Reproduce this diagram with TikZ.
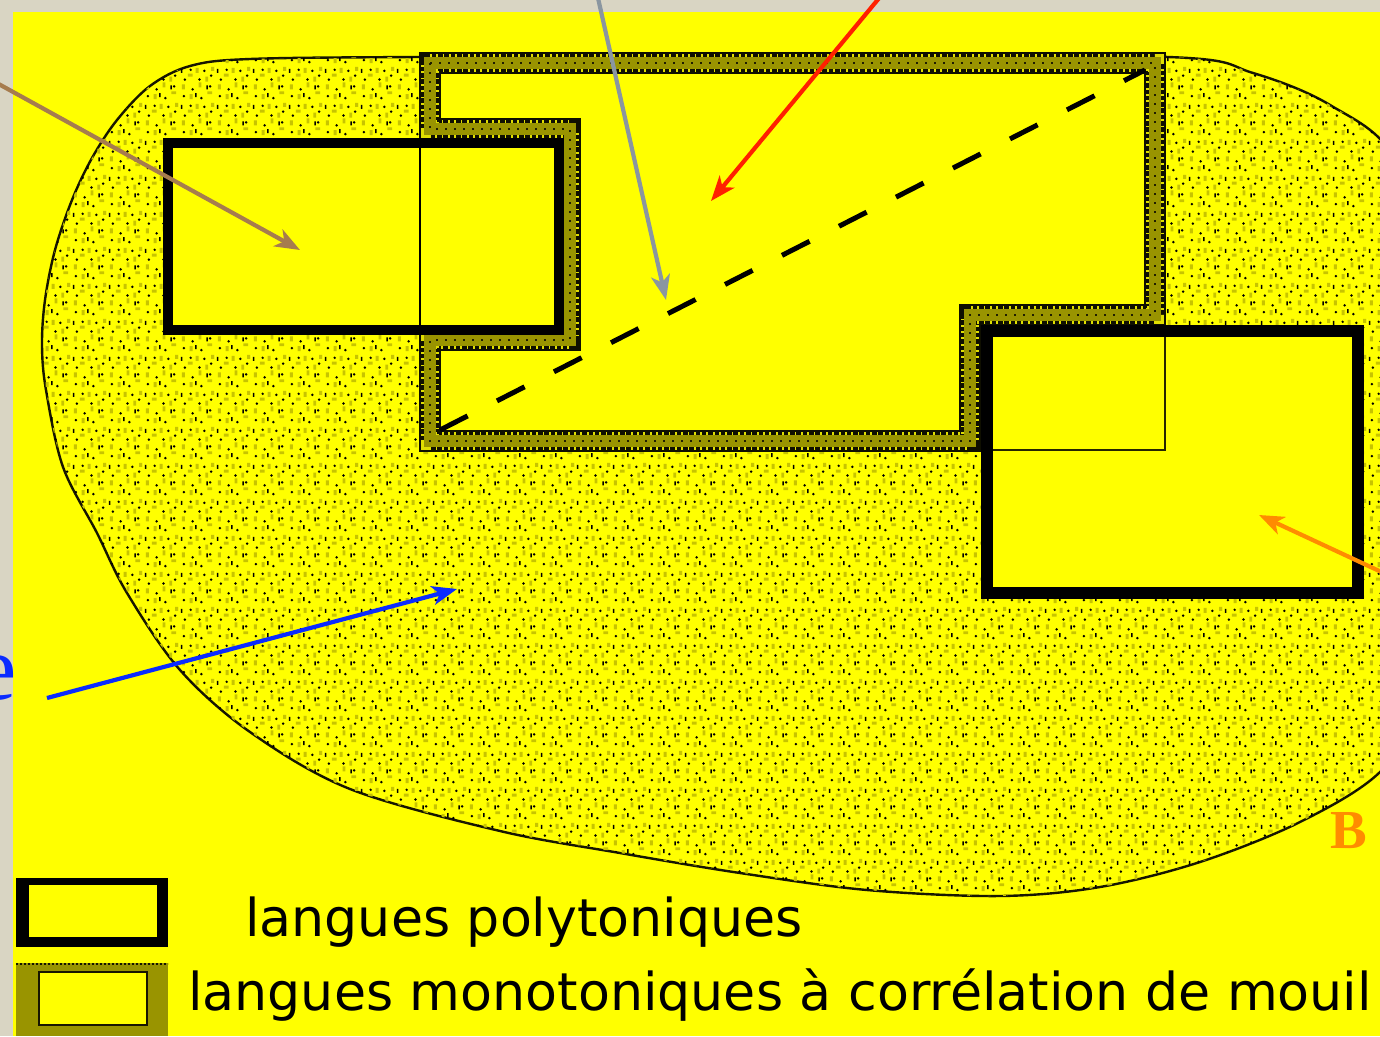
\documentclass[tikz,border=0pt]{standalone}
\usepackage{fontspec}
\setmainfont{Liberation Serif}
\newfontfamily\legendfont{DejaVu Sans}
\usetikzlibrary{arrows.meta,patterns}
\definecolor{beige}{RGB}{217,213,195}
\definecolor{ylw}{RGB}{255,255,0}
\definecolor{olv}{RGB}{153,148,0}
\definecolor{brn}{RGB}{166,124,78}
\definecolor{gry}{RGB}{138,150,160}
\definecolor{rd}{RGB}{255,32,0}
\definecolor{blu}{RGB}{10,43,255}
\definecolor{orng}{RGB}{255,140,0}
\pgfdeclarepatterninherentlycolored{stipple}{\pgfpointorigin}{\pgfqpoint{36pt}{36pt}}{\pgfqpoint{36pt}{36pt}}{%
  \pgfsetfillcolor{olv!55!ylw}%
  \pgfpathrectangle{\pgfqpoint{10pt}{2pt}}{\pgfqpoint{3pt}{5pt}}%
  \pgfpathrectangle{\pgfqpoint{28pt}{7pt}}{\pgfqpoint{5pt}{3pt}}%
  \pgfpathrectangle{\pgfqpoint{2pt}{12pt}}{\pgfqpoint{3pt}{5pt}}%
  \pgfpathrectangle{\pgfqpoint{19pt}{14pt}}{\pgfqpoint{3pt}{5pt}}%
  \pgfpathrectangle{\pgfqpoint{8pt}{25pt}}{\pgfqpoint{5pt}{3pt}}%
  \pgfpathrectangle{\pgfqpoint{26pt}{20pt}}{\pgfqpoint{3pt}{5pt}}%
  \pgfpathrectangle{\pgfqpoint{16pt}{29pt}}{\pgfqpoint{3pt}{5pt}}%
  \pgfpathrectangle{\pgfqpoint{32pt}{31pt}}{\pgfqpoint{3pt}{4pt}}%
  \pgfusepath{fill}%
  \pgfsetfillcolor{black}%
  \pgfpathcircle{\pgfqpoint{4pt}{5pt}}{1.4pt}%
  \pgfpathcircle{\pgfqpoint{22pt}{3pt}}{1.4pt}%
  \pgfpathcircle{\pgfqpoint{13pt}{12pt}}{1.4pt}%
  \pgfpathcircle{\pgfqpoint{31pt}{15pt}}{1.4pt}%
  \pgfpathcircle{\pgfqpoint{5pt}{22pt}}{1.4pt}%
  \pgfpathcircle{\pgfqpoint{20pt}{22pt}}{1.4pt}%
  \pgfpathcircle{\pgfqpoint{32pt}{26pt}}{1.4pt}%
  \pgfpathcircle{\pgfqpoint{11pt}{32pt}}{1.4pt}%
  \pgfpathcircle{\pgfqpoint{25pt}{31pt}}{1.4pt}%
  \pgfusepath{fill}%
  \pgfpathrectangle{\pgfqpoint{15.5pt}{4pt}}{\pgfqpoint{1.5pt}{4pt}}%
  \pgfpathrectangle{\pgfqpoint{27pt}{12pt}}{\pgfqpoint{1.5pt}{4pt}}%
  \pgfpathrectangle{\pgfqpoint{1pt}{29pt}}{\pgfqpoint{1.5pt}{4pt}}%
  \pgfusepath{fill}%
}
\tikzset{
  arrowline/.style={line width=4.2pt, line cap=butt, -{Stealth[length=25pt,width=19pt,inset=7pt]}},
  thickbox/.style={draw=black, fill=ylw},
  thinline/.style={line width=2pt, draw=black!75!olv},
  legendtext/.style={anchor=base west, inner sep=0pt, font=\legendfont\fontsize{52.2}{60}\selectfont},
  bandpath/.style={line join=miter},
}
\begin{document}
\begin{tikzpicture}[x=1pt,y=-1pt]
\useasboundingbox (0,0) rectangle (1380,1036);
\clip (0,0) rectangle (1380,1036);
% background
\fill[beige] (0,0) rectangle (1380,1036);
\fill[ylw] (13,12) rectangle (1380,1036);
% stippled blob
\path[fill=ylw, postaction={pattern=stipple}, draw=black!85!olv, line width=2.4pt]
  plot[smooth cycle, tension=0.55] coordinates {
  (250,59) (420,57) (800,56) (1168,57) (1253,73) (1330,105) (1395,160)
  (1425,300) (1425,700) (1380,772) (1300,822) (1200,862) (1100,887)
  (1000,896) (867,890) (740,873) (620,853) (500,831) (350,789)
  (250,732) (180,670) (127,593) (97,533) (63,467) (46,390) (42,345)
  (45,300) (55,250) (72,200) (92,158) (117,120) (150,86) (190,66)};
% monotonic region (olive band)
\fill[ylw] (430,63) -- (1155,63) -- (1155,315) -- (970,315) -- (970,441)
  -- (430,441) -- (430,340) -- (570,340) -- (570,129) -- (430,129) -- cycle;
\draw[bandpath, line width=22pt, black!90!olv] (430,63) -- (1155,63) -- (1155,315) -- (970,315) -- (970,441)
  -- (430,441) -- (430,340) -- (570,340) -- (570,129) -- (430,129) -- cycle;
\draw[bandpath, line width=18.5pt, ylw!70!olv, dash pattern=on 1.8pt off 4.5pt] (430,63) -- (1155,63) -- (1155,315) -- (970,315) -- (970,441)
  -- (430,441) -- (430,340) -- (570,340) -- (570,129) -- (430,129) -- cycle;
\draw[bandpath, line width=12pt, olv] (430,63) -- (1155,63) -- (1155,315) -- (970,315) -- (970,441)
  -- (430,441) -- (430,340) -- (570,340) -- (570,129) -- (430,129) -- cycle;
\draw[line width=2pt, black!80!olv, dash pattern=on 2pt off 7pt] (430,63) -- (1155,63) -- (1155,315) -- (970,315) -- (970,441)
  -- (430,441) -- (430,340) -- (570,340) -- (570,129) -- (430,129) -- cycle;
% polytonic rectangles
\path[thickbox, line width=10pt] (168,143) rectangle (559,330);
\draw[thinline, draw=black] (420,148) -- (420,325);
\path[thickbox, line width=12pt] (987,331) rectangle (1358,593);
\draw[thinline] (1165,337) -- (1165,450) -- (993,450);
% dashed diagonal
\coordinate (dS) at (440,430);
\coordinate (dE) at (1145,70);
\draw[line width=5pt, dash pattern=on 31pt off 33pt] (dS) -- (dE);
% arrows
\coordinate (brS) at (-5,82);   \coordinate (brT) at (300,250);
\coordinate (grS) at (598,-2);  \coordinate (grT) at (666,300);
\coordinate (rdS) at (880,-3);  \coordinate (rdT) at (711,201);
\coordinate (blS) at (47,698);  \coordinate (blT) at (457,589);
\coordinate (orS) at (1390,576);\coordinate (orT) at (1259,515);
\draw[arrowline, brn] (brS) -- (brT);
\draw[arrowline, gry] (grS) -- (grT);
\draw[arrowline, rd] (rdS) -- (rdT);
\draw[arrowline, blu] (blS) -- (blT);
\draw[arrowline, orng] (orS) -- (orT);
% labels
\node[anchor=base east, inner sep=0pt, text=blu, font=\fontsize{93}{100}\selectfont] (lblE) at (17,699) {e};
\node[anchor=base west, inner sep=0pt, text=orng, font=\bfseries\fontsize{55}{60}\selectfont] (lblB) at (1330,848) {B};
% legend
\fill[black] (16,878) rectangle (168,947);
\fill[ylw] (29,885) rectangle (157,937);
\fill[olv] (16,963) rectangle (168,1036);
\fill[ylw] (39,972) rectangle (147,1025);
\draw[line width=1.5pt, black!85!olv] (39,972) rectangle (147,1025);
\draw[line width=1.5pt, black!85!olv, dash pattern=on 2pt off 2pt] (16,964) -- (168,964);
\node[legendtext] (leg1) at (245,936) {langues polytoniques};
\node[legendtext] (leg2) at (188,1010) {langues monotoniques à corrélation de mouil};
\end{tikzpicture}
\end{document}
